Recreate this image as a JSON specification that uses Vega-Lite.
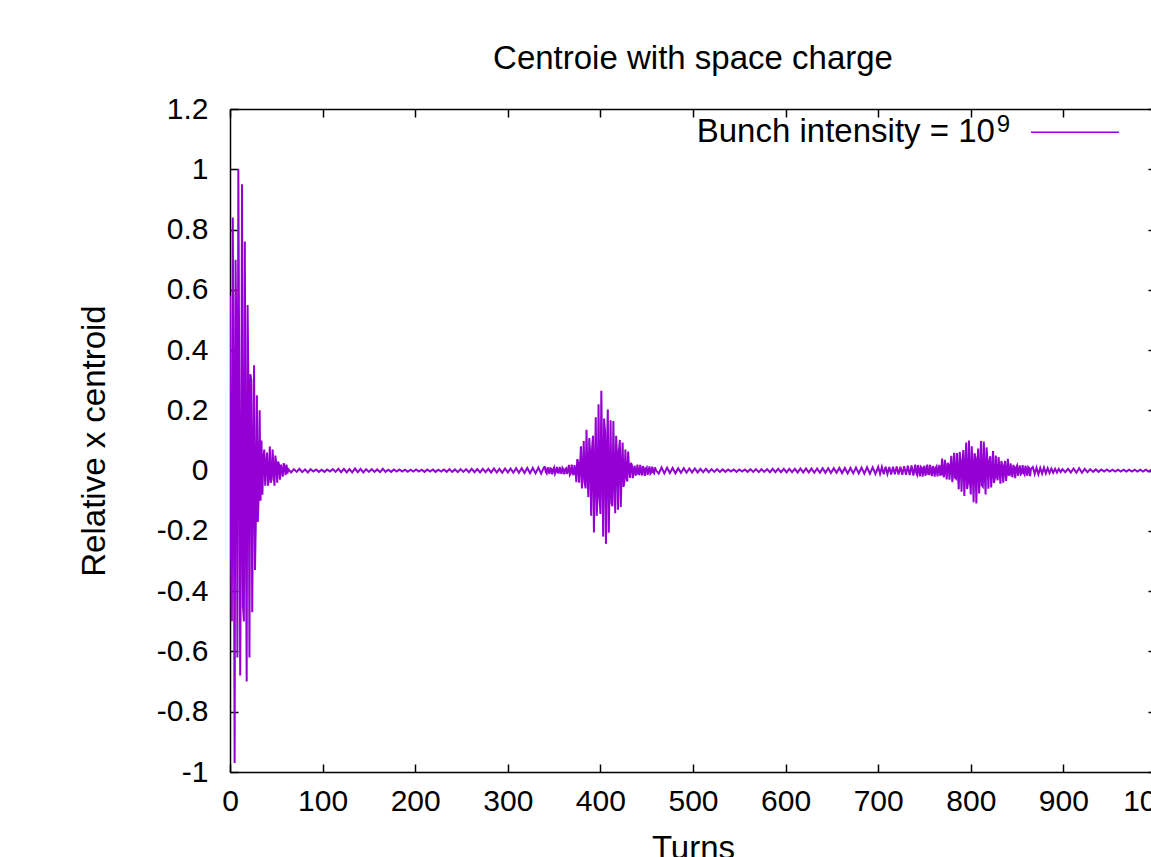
{
  "$schema": "https://vega.github.io/schema/vega-lite/v6.json",
  "width": 926,
  "height": 663,
  "autosize": "none",
  "padding": {"left": 230, "top": 109, "right": -5, "bottom": 85},
  "background": "white",
  "config": {
    "font": "Liberation Sans",
    "view": {"stroke": null},
    "axis": {
      "domain": true,
      "domainColor": "black",
      "domainWidth": 1.5,
      "grid": false,
      "labelFlush": false,
      "tickColor": "black",
      "tickSize": -8,
      "tickWidth": 1.5,
      "labelFont": "Liberation Sans",
      "labelFontSize": 30,
      "labelColor": "black",
      "titleFont": "Liberation Sans",
      "titleFontSize": 33,
      "titleFontWeight": "normal",
      "titleColor": "black"
    }
  },
  "title": {
    "text": "Centroie with space charge",
    "fontSize": 33,
    "fontWeight": "normal",
    "font": "Liberation Sans",
    "color": "black",
    "anchor": "middle",
    "baseline": "alphabetic",
    "offset": -8
  },
  "datasets": {
    "sig": [
      {"t":0,"x":0.58},{"t":1,"x":-0.25},{"t":2,"x":-0.5},{"t":3,"x":0.84},{"t":4,"x":0.1},{"t":5,"x":-0.97},{"t":6,"x":0.7},{"t":7,"x":0.4},{"t":8,"x":-0.62},{"t":9,"x":1.0},
      {"t":10,"x":0.3},{"t":11,"x":-0.68},{"t":12,"x":-0.15},{"t":13,"x":0.95},{"t":14,"x":-0.45},{"t":15,"x":-0.5},{"t":16,"x":0.76},{"t":17,"x":-0.1},{"t":18,"x":-0.7},{"t":19,"x":0.55},
      {"t":20,"x":0.25},{"t":21,"x":-0.62},{"t":22,"x":0.32},{"t":23,"x":0.3},{"t":24,"x":-0.47},{"t":25,"x":0.0},{"t":26,"x":0.35},{"t":27,"x":-0.33},{"t":28,"x":-0.15},{"t":29,"x":0.25},
      {"t":30,"x":-0.17},{"t":31,"x":-0.08},{"t":32,"x":0.2},{"t":33,"x":-0.1},{"t":34,"x":0.1},{"t":35,"x":-0.08},{"t":36,"x":0.04},{"t":37,"x":0.07},{"t":38,"x":-0.05},{"t":39,"x":0.02},
      {"t":40,"x":0.06},{"t":41,"x":-0.05},{"t":42,"x":-0.02},{"t":43,"x":0.08},{"t":44,"x":-0.04},{"t":45,"x":-0.03},{"t":46,"x":0.07},{"t":47,"x":0.0},{"t":48,"x":-0.05},{"t":49,"x":0.05},
      {"t":50,"x":0.02},{"t":51,"x":-0.04},{"t":52,"x":0.03},{"t":53,"x":0.02},{"t":54,"x":-0.03},{"t":55,"x":0.02},{"t":56,"x":0.0},{"t":57,"x":-0.02},{"t":58,"x":0.025},{"t":59,"x":0.01},
      {"t":60,"x":-0.015},{"t":61,"x":0.02},{"t":62,"x":-0.01},{"t":63,"x":0.005},
      {"t":66,"x":-0.006},{"t":69,"x":0.005},{"t":72,"x":-0.004},{"t":75,"x":0.006},{"t":78,"x":-0.005},{"t":81,"x":0.004},{"t":84,"x":-0.006},{"t":87,"x":0.005},{"t":90,"x":-0.003},{"t":93,"x":0.004},
      {"t":96,"x":-0.004},{"t":99,"x":0.003},{"t":102,"x":-0.004},{"t":105,"x":0.004},{"t":108,"x":-0.003},{"t":111,"x":0.005},{"t":114,"x":-0.004},{"t":117,"x":0.006},{"t":120,"x":-0.005},{"t":123,"x":0.006},
      {"t":126,"x":-0.006},{"t":129,"x":0.005},{"t":132,"x":-0.006},{"t":135,"x":0.007},{"t":138,"x":-0.005},{"t":141,"x":0.006},{"t":144,"x":-0.006},{"t":147,"x":0.005},{"t":150,"x":-0.004},{"t":153,"x":0.005},
      {"t":156,"x":-0.004},{"t":159,"x":0.004},{"t":162,"x":-0.005},{"t":165,"x":0.006},{"t":168,"x":-0.004},{"t":171,"x":0.003},{"t":174,"x":-0.004},{"t":177,"x":0.004},{"t":180,"x":-0.003},{"t":183,"x":0.004},
      {"t":186,"x":-0.003},{"t":189,"x":0.003},{"t":192,"x":-0.004},{"t":195,"x":0.003},{"t":198,"x":-0.003},{"t":201,"x":0.004},{"t":204,"x":-0.003},{"t":207,"x":0.003},{"t":210,"x":-0.004},{"t":213,"x":0.004},
      {"t":216,"x":-0.003},{"t":219,"x":0.004},{"t":222,"x":-0.004},{"t":225,"x":0.003},{"t":228,"x":-0.003},{"t":231,"x":0.004},{"t":234,"x":-0.004},{"t":237,"x":0.005},{"t":240,"x":-0.004},{"t":243,"x":0.004},
      {"t":246,"x":-0.005},{"t":249,"x":0.005},{"t":252,"x":-0.004},{"t":255,"x":0.005},{"t":258,"x":-0.005},{"t":261,"x":0.006},{"t":264,"x":-0.005},{"t":267,"x":0.005},{"t":270,"x":-0.006},{"t":273,"x":0.006},
      {"t":276,"x":-0.005},{"t":279,"x":0.006},{"t":282,"x":-0.006},{"t":285,"x":0.007},{"t":288,"x":-0.006},{"t":291,"x":0.006},{"t":294,"x":-0.007},{"t":297,"x":0.007},{"t":300,"x":-0.006},{"t":303,"x":0.007},
      {"t":306,"x":-0.007},{"t":309,"x":0.008},{"t":312,"x":-0.007},{"t":315,"x":0.008},{"t":318,"x":-0.008},{"t":321,"x":0.009},{"t":324,"x":-0.008},{"t":327,"x":0.009},{"t":330,"x":-0.009},{"t":333,"x":0.01},
      {"t":336,"x":-0.01},{"t":339,"x":0.011},
      {"t":340,"x":0.012},{"t":341,"x":-0.004},{"t":342,"x":-0.009},{"t":343,"x":0.011},{"t":344,"x":0.001},{"t":345,"x":-0.011},{"t":346,"x":0.008},{"t":347,"x":0.006},{"t":348,"x":-0.012},{"t":349,"x":0.003},
      {"t":350,"x":0.01},{"t":351,"x":-0.01},{"t":352,"x":-0.002},{"t":353,"x":0.012},{"t":354,"x":-0.006},{"t":355,"x":-0.007},{"t":356,"x":0.012},{"t":357,"x":-0.002},{"t":358,"x":-0.011},{"t":359,"x":0.009},
      {"t":360,"x":0.004},{"t":361,"x":-0.012},{"t":362,"x":0.005},{"t":363,"x":0.008},{"t":364,"x":-0.011},{"t":365,"x":0.0},{"t":366,"x":0.019},{"t":367,"x":-0.014},{"t":368,"x":-0.009},{"t":369,"x":0.02},
      {"t":370,"x":-0.007},{"t":371,"x":-0.015},{"t":372,"x":0.018},{"t":373,"x":0.004},{"t":374,"x":-0.038},{"t":375,"x":0.038},{"t":376,"x":0.029},{"t":377,"x":-0.04},{"t":378,"x":0.015},{"t":379,"x":0.081},
      {"t":380,"x":-0.059},{"t":381,"x":-0.013},{"t":382,"x":0.098},{"t":383,"x":-0.038},{"t":384,"x":-0.059},{"t":385,"x":0.136},{"t":386,"x":-0.013},{"t":387,"x":-0.088},{"t":388,"x":0.108},{"t":389,"x":0.053},
      {"t":390,"x":-0.15},{"t":391,"x":0.073},{"t":392,"x":0.116},{"t":393,"x":-0.205},{"t":394,"x":0.0},{"t":395,"x":0.177},{"t":396,"x":-0.15},{"t":397,"x":-0.086},{"t":398,"x":0.22},{"t":399,"x":-0.074},
      {"t":400,"x":-0.144},{"t":401,"x":0.265},{"t":402,"x":0.016},{"t":403,"x":-0.219},{"t":404,"x":0.173},{"t":405,"x":0.13},{"t":406,"x":-0.243},{"t":407,"x":0.063},{"t":408,"x":0.203},{"t":409,"x":-0.206},
      {"t":410,"x":-0.047},{"t":411,"x":0.167},{"t":412,"x":-0.108},{"t":413,"x":-0.118},{"t":414,"x":0.165},{"t":415,"x":-0.021},{"t":416,"x":-0.141},{"t":417,"x":0.116},{"t":418,"x":0.047},{"t":419,"x":-0.13},
      {"t":420,"x":0.065},{"t":421,"x":0.102},{"t":422,"x":-0.121},{"t":423,"x":0.0},{"t":424,"x":0.093},{"t":425,"x":-0.054},{"t":426,"x":-0.034},{"t":427,"x":0.07},{"t":428,"x":-0.019},{"t":429,"x":-0.036},
      {"t":430,"x":0.063},{"t":431,"x":0.002},{"t":432,"x":-0.024},{"t":433,"x":0.026},{"t":434,"x":0.019},{"t":435,"x":-0.025},{"t":436,"x":0.005},{"t":437,"x":0.016},{"t":438,"x":-0.017},{"t":439,"x":-0.004},
      {"t":440,"x":0.02},{"t":441,"x":-0.011},{"t":442,"x":-0.012},{"t":443,"x":0.019},{"t":444,"x":-0.003},{"t":445,"x":-0.016},{"t":446,"x":0.015},{"t":447,"x":0.006},{"t":448,"x":-0.017},{"t":449,"x":0.007},
      {"t":450,"x":0.011},{"t":451,"x":-0.014},{"t":452,"x":0.0},{"t":453,"x":0.014},{"t":454,"x":-0.01},{"t":455,"x":-0.006},{"t":456,"x":0.013},{"t":457,"x":-0.005},{"t":458,"x":-0.009},{"t":459,"x":0.011},
      {"t":460,"x":0.001},
      {"t":463,"x":-0.01},{"t":466,"x":0.011},{"t":469,"x":-0.009},{"t":472,"x":0.01},{"t":475,"x":-0.008},{"t":478,"x":0.009},{"t":481,"x":-0.009},{"t":484,"x":0.008},{"t":487,"x":-0.007},{"t":490,"x":0.008},
      {"t":493,"x":-0.007},{"t":496,"x":0.007},{"t":499,"x":-0.006},{"t":502,"x":0.007},{"t":505,"x":-0.006},{"t":508,"x":0.006},{"t":511,"x":-0.005},{"t":514,"x":0.006},{"t":517,"x":-0.005},{"t":520,"x":0.005},
      {"t":523,"x":-0.004},{"t":526,"x":0.005},{"t":529,"x":-0.004},{"t":532,"x":0.004},{"t":535,"x":-0.004},{"t":538,"x":0.004},{"t":541,"x":-0.003},{"t":544,"x":0.004},{"t":547,"x":-0.004},{"t":550,"x":0.004},
      {"t":553,"x":-0.003},{"t":556,"x":0.004},{"t":559,"x":-0.004},{"t":562,"x":0.005},{"t":565,"x":-0.004},{"t":568,"x":0.005},{"t":571,"x":-0.005},{"t":574,"x":0.005},{"t":577,"x":-0.004},{"t":580,"x":0.005},
      {"t":583,"x":-0.005},{"t":586,"x":0.006},{"t":589,"x":-0.005},{"t":592,"x":0.006},{"t":595,"x":-0.005},{"t":598,"x":0.006},{"t":601,"x":-0.006},{"t":604,"x":0.006},{"t":607,"x":-0.005},{"t":610,"x":0.006},
      {"t":613,"x":-0.006},{"t":616,"x":0.007},{"t":619,"x":-0.006},{"t":622,"x":0.007},{"t":625,"x":-0.006},{"t":628,"x":0.007},{"t":631,"x":-0.007},{"t":634,"x":0.007},{"t":637,"x":-0.007},{"t":640,"x":0.008},
      {"t":643,"x":-0.007},{"t":646,"x":0.008},{"t":649,"x":-0.008},{"t":652,"x":0.008},{"t":655,"x":-0.007},{"t":658,"x":0.009},{"t":661,"x":-0.008},{"t":664,"x":0.009},{"t":667,"x":-0.009},{"t":670,"x":0.009},
      {"t":673,"x":-0.009},{"t":676,"x":0.01},{"t":679,"x":-0.009},{"t":682,"x":0.01},{"t":685,"x":-0.01},{"t":688,"x":0.011},{"t":691,"x":-0.01},{"t":694,"x":0.011},{"t":697,"x":-0.011},
      {"t":700,"x":0.012},{"t":702,"x":-0.011},{"t":704,"x":0.012},{"t":706,"x":-0.012},{"t":708,"x":0.013},{"t":710,"x":-0.011},{"t":712,"x":0.012},{"t":714,"x":-0.013},{"t":716,"x":0.013},{"t":718,"x":-0.012},
      {"t":720,"x":0.014},{"t":722,"x":-0.013},{"t":724,"x":0.013},{"t":726,"x":-0.014},{"t":728,"x":0.015},{"t":730,"x":-0.014},{"t":732,"x":0.016},{"t":734,"x":-0.015},{"t":736,"x":0.017},{"t":738,"x":-0.016},
      {"t":740,"x":0.02},{"t":741,"x":-0.007},{"t":742,"x":-0.014},{"t":743,"x":0.018},{"t":744,"x":0.001},{"t":745,"x":-0.019},{"t":746,"x":0.013},{"t":747,"x":0.01},{"t":748,"x":-0.02},{"t":749,"x":0.005},
      {"t":750,"x":0.016},{"t":751,"x":-0.017},{"t":752,"x":-0.004},{"t":753,"x":0.02},{"t":754,"x":-0.011},{"t":755,"x":-0.012},{"t":756,"x":0.019},{"t":757,"x":-0.003},{"t":758,"x":-0.018},{"t":759,"x":0.015},
      {"t":760,"x":0.006},{"t":761,"x":-0.02},{"t":762,"x":0.009},{"t":763,"x":0.014},{"t":764,"x":-0.019},{"t":765,"x":0.0},{"t":766,"x":0.019},{"t":767,"x":-0.014},{"t":768,"x":-0.013},{"t":769,"x":0.04},
      {"t":770,"x":-0.011},{"t":771,"x":-0.022},{"t":772,"x":0.036},{"t":773,"x":0.002},{"t":774,"x":-0.029},{"t":775,"x":0.026},{"t":776,"x":0.019},{"t":777,"x":-0.03},{"t":778,"x":0.015},{"t":779,"x":0.049},
      {"t":780,"x":-0.038},{"t":781,"x":-0.009},{"t":782,"x":0.059},{"t":783,"x":-0.024},{"t":784,"x":-0.027},{"t":785,"x":0.058},{"t":786,"x":-0.009},{"t":787,"x":-0.062},{"t":788,"x":0.062},{"t":789,"x":0.025},
      {"t":790,"x":-0.07},{"t":791,"x":0.034},{"t":792,"x":0.068},{"t":793,"x":-0.084},{"t":794,"x":0.0},{"t":795,"x":0.093},{"t":796,"x":-0.061},{"t":797,"x":-0.039},{"t":798,"x":0.1},{"t":799,"x":-0.033},
      {"t":800,"x":-0.079},{"t":801,"x":0.081},{"t":802,"x":0.005},{"t":803,"x":-0.105},{"t":804,"x":0.058},{"t":805,"x":0.043},{"t":806,"x":-0.109},{"t":807,"x":0.023},{"t":808,"x":0.073},{"t":809,"x":-0.076},
      {"t":810,"x":-0.017},{"t":811,"x":0.098},{"t":812,"x":-0.049},{"t":813,"x":-0.053},{"t":814,"x":0.097},{"t":815,"x":-0.012},{"t":816,"x":-0.079},{"t":817,"x":0.077},{"t":818,"x":0.031},{"t":819,"x":-0.06},
      {"t":820,"x":0.03},{"t":821,"x":0.048},{"t":822,"x":-0.056},{"t":823,"x":0.0},{"t":824,"x":0.065},{"t":825,"x":-0.041},{"t":826,"x":-0.026},{"t":827,"x":0.05},{"t":828,"x":-0.017},{"t":829,"x":-0.032},
      {"t":830,"x":0.045},{"t":831,"x":0.003},{"t":832,"x":-0.043},{"t":833,"x":0.032},{"t":834,"x":0.019},{"t":835,"x":-0.04},{"t":836,"x":0.01},{"t":837,"x":0.032},{"t":838,"x":-0.034},{"t":839,"x":-0.008},
      {"t":840,"x":0.039},{"t":841,"x":-0.014},{"t":842,"x":-0.015},{"t":843,"x":0.024},{"t":844,"x":-0.003},{"t":845,"x":-0.022},{"t":846,"x":0.019},{"t":847,"x":0.008},{"t":848,"x":-0.025},{"t":849,"x":0.011},
      {"t":850,"x":0.017},{"t":851,"x":-0.017},{"t":852,"x":0.0},{"t":853,"x":0.017},{"t":854,"x":-0.012},{"t":855,"x":-0.008},{"t":856,"x":0.018},{"t":857,"x":-0.007},{"t":858,"x":-0.013},{"t":859,"x":0.016},
      {"t":860,"x":0.001},{"t":861,"x":-0.017},{"t":862,"x":0.012},{"t":863,"x":0.009},{"t":864,"x":-0.018},{"t":865,"x":0.005},
      {"t":867,"x":0.012},{"t":869,"x":-0.011},{"t":871,"x":0.01},{"t":873,"x":-0.012},{"t":875,"x":0.009},{"t":877,"x":-0.01},{"t":879,"x":0.01},{"t":881,"x":-0.009},{"t":883,"x":0.008},{"t":885,"x":-0.008},
      {"t":887,"x":0.007},{"t":889,"x":-0.007},{"t":891,"x":0.006},{"t":893,"x":-0.006},{"t":895,"x":0.006},{"t":897,"x":-0.005},{"t":899,"x":0.005},
      {"t":902,"x":-0.005},{"t":905,"x":0.006},{"t":908,"x":-0.006},{"t":911,"x":0.007},{"t":914,"x":-0.007},{"t":917,"x":0.008},{"t":920,"x":-0.007},{"t":923,"x":0.006},{"t":926,"x":-0.005},{"t":929,"x":0.005},
      {"t":932,"x":-0.004},{"t":935,"x":0.004},{"t":938,"x":-0.004},{"t":941,"x":0.004},{"t":944,"x":-0.003},{"t":947,"x":0.004},{"t":950,"x":-0.003},{"t":953,"x":0.003},{"t":956,"x":-0.003},{"t":959,"x":0.003},
      {"t":962,"x":-0.003},{"t":965,"x":0.003},{"t":968,"x":-0.003},{"t":971,"x":0.003},{"t":974,"x":-0.003},{"t":977,"x":0.003},{"t":980,"x":-0.003},{"t":983,"x":0.003},{"t":986,"x":-0.003},{"t":989,"x":0.003},
      {"t":992,"x":-0.003},{"t":995,"x":0.003},{"t":998,"x":-0.003},{"t":1000,"x":0.002}
    ]
  },
  "layer": [
    {
      "data": {"name": "sig"},
      "mark": {"type": "line", "color": "#9400D3", "strokeWidth": 2, "clip": true},
      "encoding": {
        "x": {"field": "t", "type": "quantitative", "scale": {"domain": [0, 1000], "nice": false, "zero": false},
              "axis": {"orient": "bottom", "values": [0,100,200,300,400,500,600,700,800,900,1000], "format": "d", "title": "Turns", "labelPadding": 22, "titlePadding": 16}},
        "y": {"field": "x", "type": "quantitative", "scale": {"domain": [-1, 1.2], "nice": false, "zero": false},
              "axis": {"orient": "left", "values": [-1,-0.8,-0.6,-0.4,-0.2,0,0.2,0.4,0.6,0.8,1,1.2], "labelExpr": "'' + (round(datum.value*10)/10)", "title": "Relative x centroid", "labelPadding": 30, "titlePadding": 45}}
      }
    },
    {
      "data": {"name": "sig"},
      "mark": {"type": "line", "opacity": 0, "clip": true},
      "encoding": {
        "x": {"field": "t", "type": "quantitative", "axis": {"orient": "top", "values": [0,100,200,300,400,500,600,700,800,900,1000], "labels": false, "title": null}},
        "y": {"field": "x", "type": "quantitative", "axis": {"orient": "right", "values": [-1,-0.8,-0.6,-0.4,-0.2,0,0.2,0.4,0.6,0.8,1,1.2], "labels": false, "title": null}}
      }
    },
    {
      "data": {"values": [{}]},
      "mark": {"type": "text", "align": "right", "baseline": "alphabetic", "fontSize": 33, "font": "Liberation Sans", "color": "black"},
      "encoding": {
        "x": {"datum": 826, "type": "quantitative", "axis": null},
        "y": {"datum": 1.0905, "type": "quantitative", "axis": null},
        "text": {"value": "Bunch intensity = 10"}
      }
    },
    {
      "data": {"values": [{}]},
      "mark": {"type": "text", "align": "left", "baseline": "alphabetic", "fontSize": 24, "font": "Liberation Sans", "color": "black"},
      "encoding": {
        "x": {"datum": 828, "type": "quantitative", "axis": null},
        "y": {"datum": 1.1237, "type": "quantitative", "axis": null},
        "text": {"value": "9"}
      }
    },
    {
      "data": {"values": [{}]},
      "mark": {"type": "rule", "color": "#9400D3", "strokeWidth": 1.5},
      "encoding": {
        "x": {"datum": 865, "type": "quantitative", "axis": null},
        "x2": {"datum": 960},
        "y": {"datum": 1.1227, "type": "quantitative", "axis": null}
      }
    }
  ],
  "resolve": {"axis": {"x": "independent", "y": "independent"}}
}
